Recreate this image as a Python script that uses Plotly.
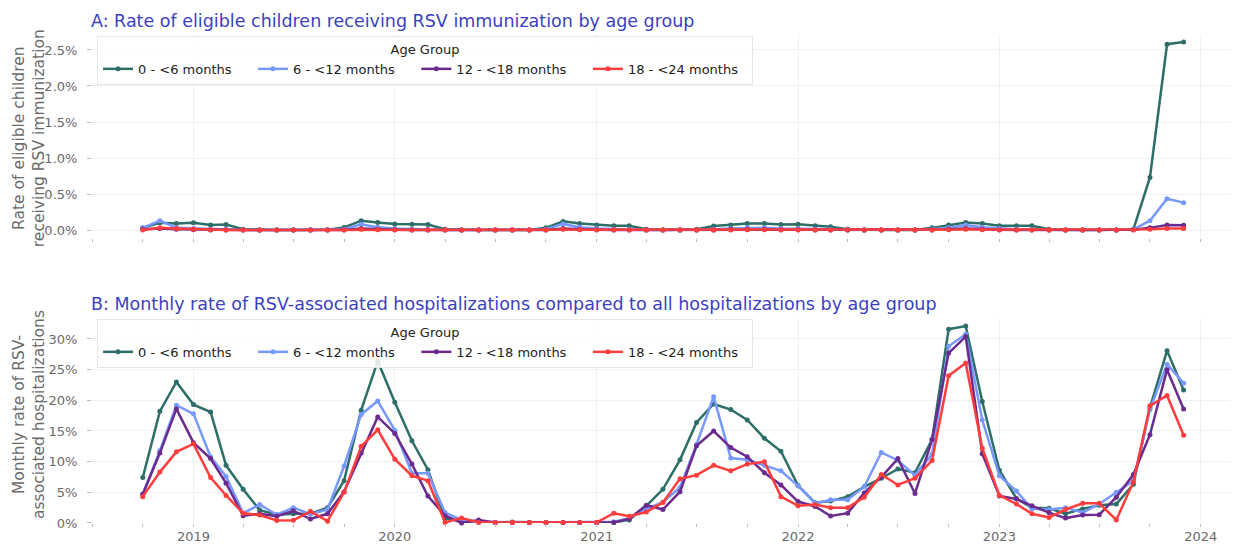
import pandas as pd
import plotly.graph_objects as go

# Months (first of month), Oct 2018 .. Dec 2023
months = pd.date_range("2018-10-01", "2023-12-01", freq="MS")

age_groups = ["0 - <6 months", "6 - <12 months", "12 - <18 months", "18 - <24 months"]
colors = ["#2E6E68", "#7799FF", "#6B2B8E", "#FF3D3D"]

# Panel A: immunization rate (%)
imm_0_6 = [0.03, 0.10, 0.09, 0.10, 0.07, 0.075, 0.01, 0, 0, 0, 0, 0.005, 0.035, 0.13, 0.105, 0.085,
           0.08, 0.075, 0.01, 0, 0, 0, 0, 0, 0.03, 0.12, 0.09, 0.07, 0.06, 0.06, 0.01, 0, 0, 0.01,
           0.055, 0.07, 0.09, 0.09, 0.075, 0.08, 0.06, 0.045, 0.01, 0, 0, 0, 0, 0.03, 0.07, 0.105,
           0.09, 0.06, 0.06, 0.06, 0.01, 0, 0, 0, 0, 0.01, 0.73, 2.58, 2.61]
imm_6_12 = [0.03, 0.13, 0.03, 0.02, 0.01, 0.01, 0, 0, 0, 0, 0, 0, 0.01, 0.08, 0.04, 0.02,
            0.01, 0.01, 0, 0, 0, 0, 0, 0, 0.01, 0.085, 0.04, 0.02, 0.01, 0.01, 0, 0, 0, 0,
            0.01, 0.02, 0.03, 0.03, 0.02, 0.02, 0.01, 0.01, 0, 0, 0, 0, 0, 0.01, 0.03, 0.07,
            0.04, 0.02, 0.01, 0.01, 0, 0, 0, 0, 0, 0.01, 0.13, 0.435, 0.38]
imm_12_18 = [0.01, 0.02, 0.01, 0.005, 0, 0, 0, 0, 0, 0, 0, 0, 0, 0.02, 0.01, 0.005,
             0, 0, 0, 0, 0, 0, 0, 0, 0, 0.02, 0.01, 0.005, 0, 0, 0, 0, 0, 0,
             0, 0.01, 0.01, 0.01, 0.005, 0.005, 0, 0, 0, 0, 0, 0, 0, 0, 0.01, 0.02,
             0.01, 0.005, 0, 0, 0, 0, 0, 0, 0, 0.005, 0.03, 0.07, 0.065]
imm_18_24 = [0, 0.03, 0.02, 0.01, 0.005, 0, 0, 0, 0, 0, 0, 0, 0, 0.01, 0.005, 0,
             0, 0, 0, 0, 0, 0, 0, 0, 0, 0.01, 0.005, 0, 0, 0, 0, 0, 0, 0,
             0, 0, 0.005, 0.005, 0, 0, 0, 0, 0, 0, 0, 0, 0, 0, 0.005, 0.01,
             0.005, 0, 0, 0, 0, 0, 0, 0, 0, 0, 0.01, 0.02, 0.02]

# Panel B: RSV hospitalization share (%)
hosp_0_6 = [7.4, 18.2, 23.0, 19.3, 18.1, 9.4, 5.5, 2.1, 1.35, 1.5, 1.5, 2.5, 6.9, 18.4, 26.4, 19.7,
            13.4, 8.7, 0.7, 0.3, 0.2, 0.1, 0.15, 0.1, 0.1, 0.1, 0.1, 0.1, 0.1, 0.5, 2.8, 5.5,
            10.3, 16.4, 19.4, 18.5, 16.8, 13.8, 11.7, 6.1, 3.3, 3.6, 4.3, 5.9, 7.3, 8.8, 8.2, 13.6,
            31.6, 32.1, 19.8, 8.6, 4.0, 2.5, 2.4, 1.5, 2.3, 2.9, 3.1, 6.3, 18.8, 28.1, 21.7]
hosp_6_12 = [4.7, 11.8, 19.2, 17.8, 10.8, 7.6, 1.6, 3.0, 1.35, 2.5, 1.45, 2.2, 9.3, 17.7, 19.9, 15.1,
             8.1, 8.1, 1.7, 0.5, 0.2, 0.1, 0.1, 0.1, 0.1, 0.1, 0.1, 0.1, 0.2, 0.75, 2.3, 3.4,
             5.8, 12.8, 20.6, 10.6, 10.3, 9.4, 8.5, 6.05, 3.2, 3.8, 3.8, 5.9, 11.5, 10.2, 7.8, 11.2,
             28.8, 30.8, 16.8, 7.7, 5.2, 2.3, 2.2, 2.5, 1.7, 3.1, 5.0, 6.9, 18.5, 25.9, 22.8]
hosp_12_18 = [4.7, 11.4, 18.6, 13.1, 10.5, 6.5, 1.2, 1.5, 1.1, 2.0, 0.65, 1.5, 5.1, 11.4, 17.3, 14.6,
              9.6, 4.4, 1.2, 0.0, 0.5, 0.1, 0.1, 0.1, 0.1, 0.1, 0.1, 0.1, 0.1, 0.7, 2.9, 2.2,
              5.1, 12.6, 15.0, 12.3, 10.8, 8.2, 6.2, 3.5, 2.7, 1.15, 1.6, 4.9, 7.5, 10.5, 4.8, 13.6,
              27.7, 30.4, 11.3, 4.4, 3.9, 2.8, 1.7, 0.8, 1.3, 1.35, 4.2, 7.9, 14.4, 25.0, 18.6]
hosp_18_24 = [4.3, 8.3, 11.6, 12.9, 7.4, 4.5, 1.6, 1.3, 0.4, 0.45, 1.9, 0.3, 5.0, 12.5, 15.2, 10.4,
              7.7, 6.9, 0.1, 0.8, 0.1, 0.1, 0.1, 0.1, 0.1, 0.1, 0.1, 0.1, 1.6, 1.1, 1.8, 3.35,
              7.2, 7.8, 9.4, 8.5, 9.6, 10.0, 4.3, 2.8, 3.0, 2.5, 2.5, 4.2, 7.9, 6.2, 7.3, 10.2,
              24.0, 26.1, 12.2, 4.5, 3.1, 1.5, 0.9, 2.2, 3.2, 3.2, 0.5, 6.7, 19.1, 20.8, 14.3]

imm_series = [imm_0_6, imm_6_12, imm_12_18, imm_18_24]
hosp_series = [hosp_0_6, hosp_6_12, hosp_12_18, hosp_18_24]

title_a = "A: Rate of eligible children receiving RSV immunization by age group"
title_b = "B: Monthly rate of RSV-associated hospitalizations compared to all hospitalizations by age group"
ytitle_a = "Rate of eligible children<br>receiving RSV immunization"
ytitle_b = "Monthly rate of RSV-<br>associated hospitalizations"

FONT = "DejaVu Sans"
GRID = "#EEF0F3"
TICKC = "#BBBBBB"
TXT = "#6A6A6A"
NBSP = "\u00a0"


def legend_label(i, name):
    # extra trailing spacing between horizontal legend entries
    return name + NBSP * (4 if i < len(age_groups) - 1 else 2)


fig = go.Figure()
for i, (name, col, vals) in enumerate(zip(age_groups, colors, imm_series)):
    fig.add_trace(go.Scatter(x=months, y=[v / 100 for v in vals], name=legend_label(i, name),
                             mode="lines+markers",
                             line=dict(color=col, width=2.5), marker=dict(size=5, color=col),
                             xaxis="x", yaxis="y", legend="legend", cliponaxis=False))
for i, (name, col, vals) in enumerate(zip(age_groups, colors, hosp_series)):
    fig.add_trace(go.Scatter(x=months, y=[v / 100 for v in vals], name=legend_label(i, name),
                             mode="lines+markers",
                             line=dict(color=col, width=2.5), marker=dict(size=5, color=col),
                             xaxis="x2", yaxis="y2", legend="legend2", cliponaxis=False))

xcommon = dict(type="date", range=["2018-07-01", "2024-03-05"], showgrid=True, gridcolor=GRID,
               tick0="2019-01-01", dtick="M12", ticks="outside", ticklen=3, tickcolor=TICKC,
               minor=dict(dtick="M3", tick0="2019-01-01", ticks="outside", ticklen=3,
                          tickcolor=TICKC, showgrid=False),
               zeroline=False, showline=False, automargin=False, ticklabelstandoff=-2,
               tickfont=dict(size=13, color=TXT, family=FONT))

# figure is drawn at an 8px page offset; plot A 26..230, plot B 311..515 in figure pixels
ya_dom = [0.5828, 1.0]
yb_dom = [0.0, 0.4172]

ycommon = dict(ticks="outside", ticklen=4, tickcolor=TICKC, gridcolor=GRID, zeroline=False,
               showline=False, automargin=False, ticklabelstandoff=7,
               tickfont=dict(size=13, color=TXT, family=FONT))

legend_common = dict(orientation="h", xanchor="left", yanchor="top",
                     bgcolor="rgba(255,255,255,0.85)", bordercolor="#E6E6E6", borderwidth=1,
                     font=dict(size=13, color="#222222", family=FONT),
                     title=dict(text="Age Group", side="top center",
                                font=dict(size=13, color="#222222", family=FONT)))

fig.update_layout(
    width=1230, height=536,
    margin=dict(l=84, r=2, t=26, b=21),
    paper_bgcolor="white", plot_bgcolor="white",
    font=dict(family=FONT, size=13, color=TXT),
    showlegend=True,
    xaxis=dict(**xcommon, domain=[0, 1], anchor="y", showticklabels=False, matches="x2"),
    xaxis2=dict(**xcommon, domain=[0, 1], anchor="y2", tickformat="%Y"),
    yaxis=dict(**ycommon, domain=ya_dom, anchor="x", range=[-0.00111, 0.02722],
               tickvals=[0, 0.005, 0.01, 0.015, 0.02, 0.025], tickformat=".1%"),
    yaxis2=dict(**ycommon, domain=yb_dom, anchor="x2", range=[0.0, 0.3326],
                tickvals=[0, 0.05, 0.10, 0.15, 0.20, 0.25, 0.30], tickformat=".0%"),
    legend=dict(**legend_common, x=0.0044, y=0.9959),
    legend2=dict(**legend_common, x=0.0044, y=0.4172),
    annotations=[
        dict(text=title_a, xref="paper", yref="paper", x=0, y=1, xanchor="left", yanchor="bottom",
             yshift=1, xshift=-3, showarrow=False, font=dict(size=17.5, color="#3B3FC0", family=FONT)),
        dict(text=title_b, xref="paper", yref="paper", x=0, y=yb_dom[1], xanchor="left",
             yanchor="bottom", yshift=3, xshift=-3, showarrow=False,
             font=dict(size=17.5, color="#3B3FC0", family=FONT)),
        dict(text=ytitle_a, xref="paper", yref="paper", x=0, y=0.787, xanchor="center",
             yanchor="middle", xshift=-63, textangle=-90, showarrow=False,
             font=dict(size=15.5, color=TXT, family=FONT)),
        dict(text=ytitle_b, xref="paper", yref="paper", x=0, y=0.2209, xanchor="center",
             yanchor="middle", xshift=-63, textangle=-90, showarrow=False,
             font=dict(size=15.5, color=TXT, family=FONT)),
    ],
)

fig.write_html("out.html")
